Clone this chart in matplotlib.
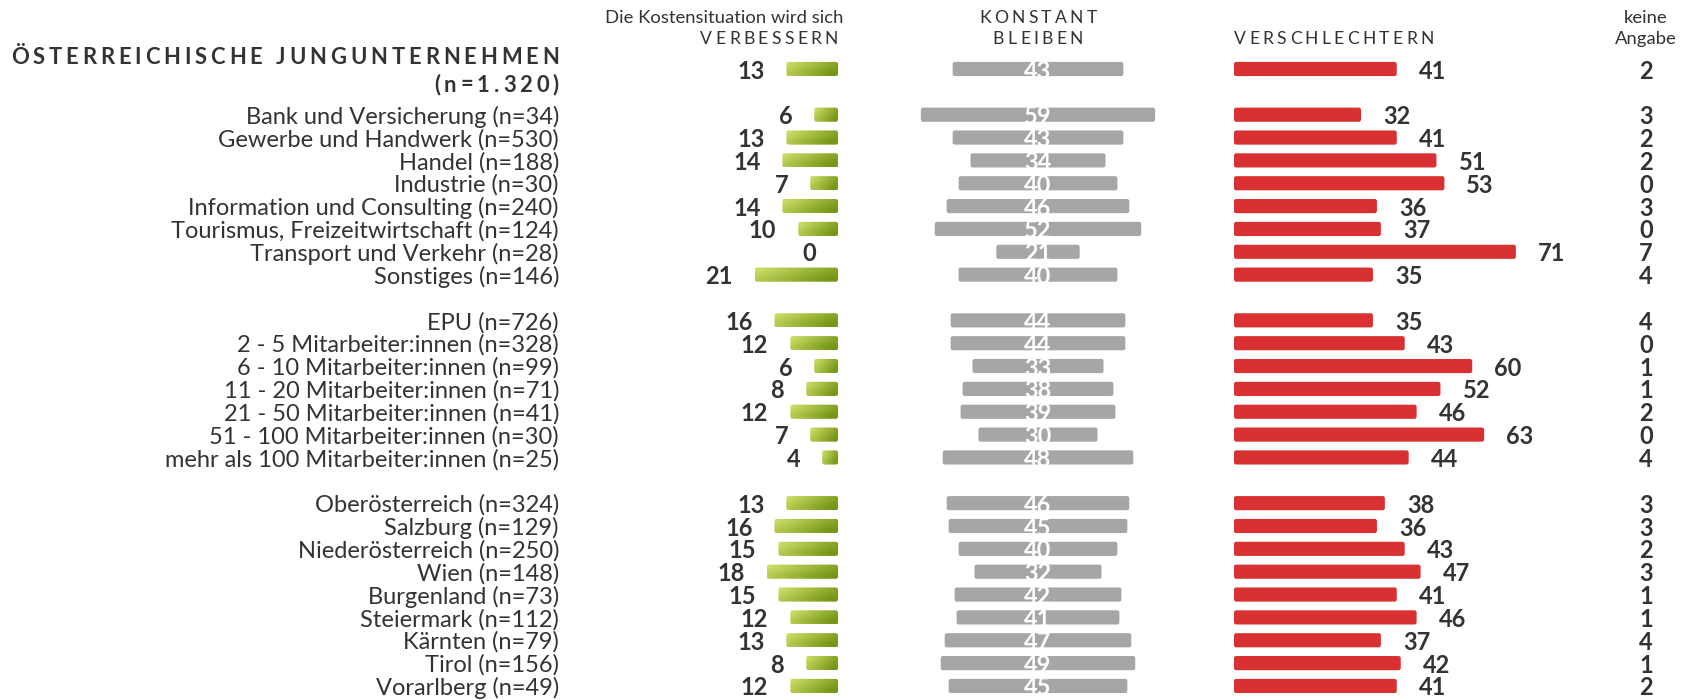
import numpy as np
import matplotlib
matplotlib.use("Agg")
import matplotlib.pyplot as plt
from matplotlib.patches import FancyBboxPatch
from matplotlib.font_manager import FontProperties

# ---------------- data ----------------
title_line1 = "ÖSTERREICHISCHE JUNGUNTERNEHMEN"
title_line2 = "(n=1.320)"
categories = [
    "Bank und Versicherung (n=34)", "Gewerbe und Handwerk (n=530)", "Handel (n=188)",
    "Industrie (n=30)", "Information und Consulting (n=240)",
    "Tourismus, Freizeitwirtschaft (n=124)", "Transport und Verkehr (n=28)", "Sonstiges (n=146)",
    None,
    "EPU (n=726)", "2 - 5 Mitarbeiter:innen (n=328)", "6 - 10 Mitarbeiter:innen (n=99)",
    "11 - 20 Mitarbeiter:innen (n=71)", "21 - 50 Mitarbeiter:innen (n=41)",
    "51 - 100 Mitarbeiter:innen (n=30)", "mehr als 100 Mitarbeiter:innen (n=25)",
    None,
    "Oberösterreich (n=324)", "Salzburg (n=129)", "Niederösterreich (n=250)", "Wien (n=148)",
    "Burgenland (n=73)", "Steiermark (n=112)", "Kärnten (n=79)", "Tirol (n=156)",
    "Vorarlberg (n=49)",
]
overall = [13, 43, 41, 2]
verbessern = [6, 13, 14, 7, 14, 10, 0, 21, None, 16, 12, 6, 8, 12, 7, 4, None,
              13, 16, 15, 18, 15, 12, 13, 8, 12]
konstant = [59, 43, 34, 40, 46, 52, 21, 40, None, 44, 44, 33, 38, 39, 30, 48, None,
            46, 45, 40, 32, 42, 41, 47, 49, 45]
verschlechtern = [32, 41, 51, 53, 36, 37, 71, 35, None, 35, 43, 60, 52, 46, 63, 44, None,
                  38, 36, 43, 47, 41, 46, 37, 42, 41]
keine_angabe = [3, 2, 2, 0, 3, 0, 7, 4, None, 4, 0, 1, 1, 2, 0, 4, None,
                3, 3, 2, 3, 1, 1, 4, 1, 2]
headers = {
    "green": ("Die Kostensituation wird sich", "VERBESSERN"),
    "grey": ("KONSTANT", "BLEIBEN"),
    "red": ("VERSCHLECHTERN",),
    "ka": ("keine", "Angabe"),
}

# ---------------- style ----------------
W, H = 1684, 700
DPI = 100
FONT = ["Lato", "DejaVu Sans"]
plt.rcParams["font.family"] = FONT
TXT = "#333333"
GREY = "#a6a6a6"
RED = "#d93131"
G_LIGHT = np.array([0.80, 0.87, 0.40])
G_DARK = np.array([0.46, 0.59, 0.09])
PX_PER_UNIT = 3.97
ROW_PX = 22.85
ROW0_PX = 69.0
BAR_H = 0.62
FS = 17.0
VFS = 17.0

fig = plt.figure(figsize=(W / DPI, H / DPI), dpi=DPI)

# full row list: overall row, blank, then categories
all_labels = [None, None] + categories
vals_g = [overall[0], None] + verbessern
vals_k = [overall[1], None] + konstant
vals_r = [overall[2], None] + verschlechtern
vals_ka = [overall[3], None] + keine_angabe
nrows = len(all_labels)
ys = np.arange(nrows)


def make_axes(x_left_px, x_units_lo, x_units_hi):
    width_px = (x_units_hi - x_units_lo) * PX_PER_UNIT
    top_px = ROW0_PX - 0.5 * ROW_PX
    height_px = nrows * ROW_PX
    ax = fig.add_axes([x_left_px / W, 1 - (top_px + height_px) / H, width_px / W, height_px / H])
    ax.set_ylim(nrows - 0.5, -0.5)
    ax.axis("off")
    return ax


# green axes: right edge at x=838 px, inverted x
g_units = 30
axg = make_axes(838 - g_units * PX_PER_UNIT, 0, g_units)
axg.set_xlim(g_units, 0)
# grey axes: centred at 1038 px
k_units = 36
axk = make_axes(1038 - k_units * PX_PER_UNIT, -k_units, k_units)
axk.set_xlim(-k_units, k_units)
# red axes: left at 1234 px
r_units = 95
axr = make_axes(1234, 0, r_units)
axr.set_xlim(0, r_units)

gap_units = 22 / PX_PER_UNIT
rx = 0.55  # rounding in x units
ry = 2.2 / ROW_PX  # rounding in y units

grad = np.zeros((2, 64, 3))
t = np.linspace(0, 1, 64)
for i, row in enumerate([0.0, 0.25]):
    tt = np.clip(t * 0.85 + row, 0, 1)
    grad[i] = G_LIGHT[None, :] * (1 - tt[:, None]) + G_DARK[None, :] * tt[:, None]

for y, vg, vk, vr, va in zip(ys, vals_g, vals_k, vals_r, vals_ka):
    if vg is None:
        continue
    # green (gradient bar)
    if vg > 0:
        patch = FancyBboxPatch((0, y - BAR_H / 2), vg, BAR_H,
                               boxstyle=f"round,pad=0,rounding_size={rx}",
                               mutation_aspect=ry / rx, fc="none", ec="none")
        axg.add_patch(patch)
        im = axg.imshow(grad, extent=(vg, 0, y + BAR_H / 2, y - BAR_H / 2),
                        aspect="auto", interpolation="bilinear", zorder=2)
        im.set_clip_path(patch)
    axg.text(vg + gap_units, y, str(vg), ha="right", va="center_baseline",
             fontsize=VFS, fontweight="bold", color=TXT, clip_on=False)
    # grey
    axk.add_patch(FancyBboxPatch((-vk / 2, y - BAR_H / 2), vk, BAR_H,
                                 boxstyle=f"round,pad=0,rounding_size={rx}",
                                 mutation_aspect=ry / rx, fc=GREY, ec="none"))
    axk.text(0, y, str(vk), ha="center", va="center_baseline", fontsize=VFS,
             fontweight="bold", color="white")
    # red
    axr.add_patch(FancyBboxPatch((0, y - BAR_H / 2), vr, BAR_H,
                                 boxstyle=f"round,pad=0,rounding_size={rx}",
                                 mutation_aspect=ry / rx, fc=RED, ec="none"))
    axr.text(vr + gap_units, y, str(vr), ha="left", va="center_baseline",
             fontsize=VFS, fontweight="bold", color=TXT, clip_on=False)
    # keine Angabe
    axr.text(((1646 - 1234) / PX_PER_UNIT), y, str(va), ha="center", va="center_baseline",
             fontsize=VFS, fontweight="bold", color=TXT, clip_on=False)

# category labels
for y, lab in zip(ys, all_labels):
    if lab is None:
        continue
    axg.text(g_units + (838 - g_units * PX_PER_UNIT - 559) / PX_PER_UNIT, y, lab,
             ha="right", va="center_baseline", fontsize=FS, color=TXT, clip_on=False)

# ---------- letter-spaced text helper ----------
renderer = fig.canvas.get_renderer()


def spaced_text(x_px, y_px, s, size, weight="normal", spacing_px=3.0, ha="left"):
    fp = FontProperties(family=FONT, size=size, weight=weight)
    widths = []
    for ch in s:
        tmp = fig.text(0, 0, ch, fontproperties=fp)
        if ch == " ":
            tmp.set_text("a a")
            w3 = tmp.get_window_extent(renderer).width
            tmp.set_text("aa")
            w2 = tmp.get_window_extent(renderer).width
            w = w3 - w2
        else:
            w = tmp.get_window_extent(renderer).width
        tmp.remove()
        widths.append(w)
    total = sum(widths) + spacing_px * (len(s) - 1)
    if ha == "right":
        x0 = x_px - total
    elif ha == "center":
        x0 = x_px - total / 2
    else:
        x0 = x_px
    x = x0
    for ch, w in zip(s, widths):
        fig.text(x / W, 1 - y_px / H, ch, fontproperties=fp, color=TXT,
                 ha="left", va="center_baseline")
        x += w + spacing_px


# title
spaced_text(559, 55, title_line1, 15.8, weight="bold", spacing_px=3.9, ha="right")
spaced_text(559, 83, title_line2, 15.8, weight="bold", spacing_px=3.9, ha="right")

# column headers
HFS = 13.3
CFS = 12.6
fig.text(843 / W, 1 - 16.5 / H, headers["green"][0], ha="right", va="center_baseline",
         fontsize=HFS, color=TXT)
spaced_text(838, 37.5, headers["green"][1], CFS, spacing_px=3.3, ha="right")
spaced_text(1038, 16.5, headers["grey"][0], CFS, spacing_px=3.3, ha="center")
spaced_text(1038, 37.5, headers["grey"][1], CFS, spacing_px=3.3, ha="center")
spaced_text(1234, 37.5, headers["red"][0], CFS, spacing_px=3.3, ha="left")
fig.text(1646 / W, 1 - 16.5 / H, headers["ka"][0], ha="center", va="center_baseline",
         fontsize=HFS, color=TXT)
fig.text(1646 / W, 1 - 37.5 / H, headers["ka"][1], ha="center", va="center_baseline",
         fontsize=HFS, color=TXT)

fig.savefig("out.png", dpi=DPI)
